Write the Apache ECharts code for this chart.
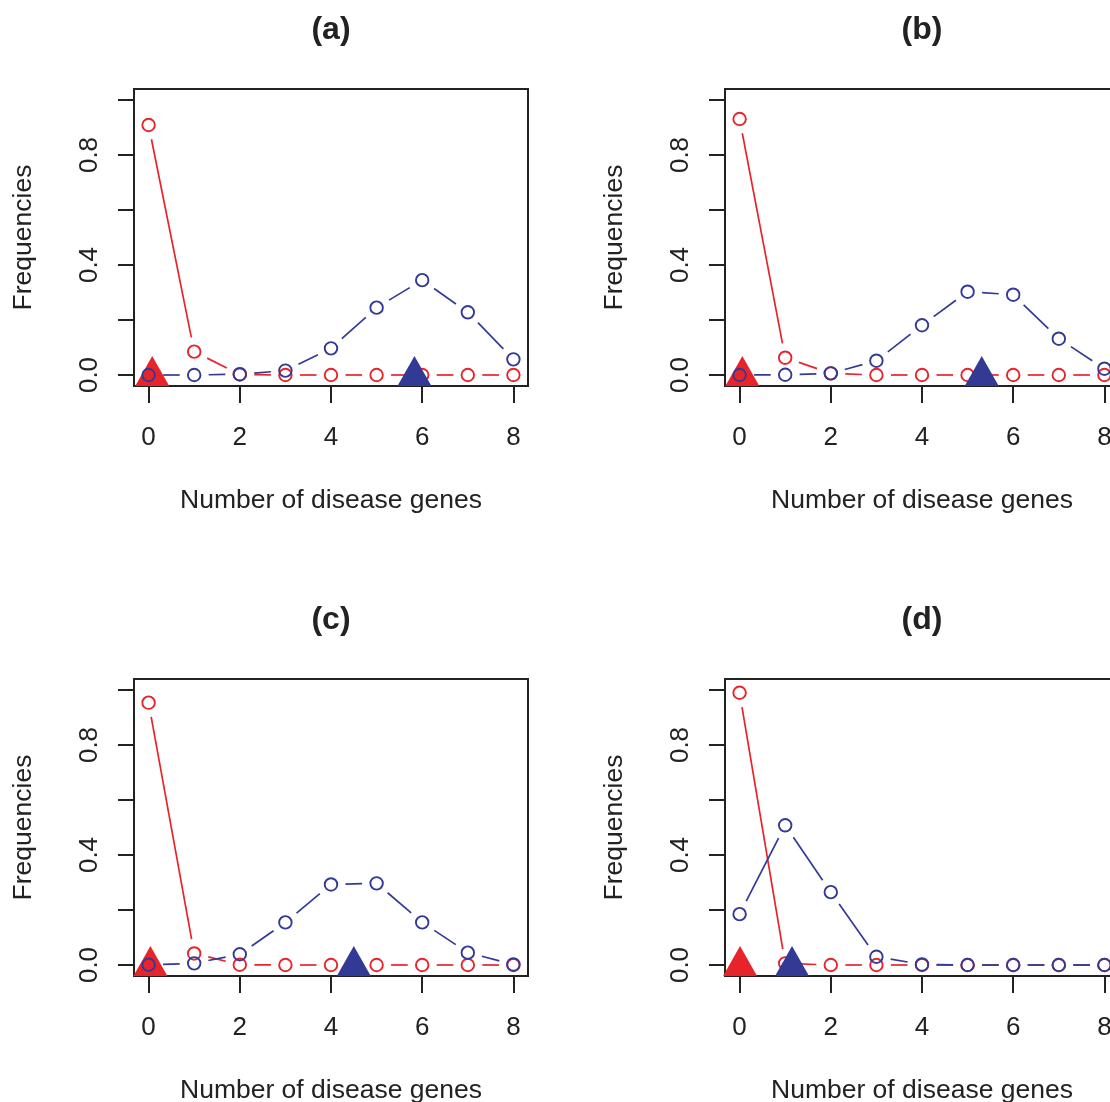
<!DOCTYPE html>
<html>
<head>
<meta charset="utf-8">
<script src="https://cdn.jsdelivr.net/npm/echarts@6/dist/echarts.min.js"></script>
<style>
  html, body { margin: 0; padding: 0; background: #fff; overflow: hidden; }
  /* the figure is wider than the window; its right edge is cut off as in the reference */
  #chart { width: 1182px; height: 1102px; }
</style>
</head>
<body>
<div id="chart"></div>
<script>
// ticks and labels
var genes = [0, 1, 2, 3, 4, 5, 6, 7, 8];
var xTicks = [0, 2, 4, 6, 8];
var yTicks = [0, 0.2, 0.4, 0.6, 0.8, 1.0];
var yTickLabels = [0, 0.4, 0.8];
var panelTitles = ['(a)', '(b)', '(c)', '(d)'];

// frequencies, one array per panel
var redA  = [0.909, 0.085, 0.002, 0, 0, 0, 0, 0, 0];
var blueA = [0, 0, 0.003, 0.016, 0.097, 0.245, 0.345, 0.228, 0.057];
var redB  = [0.931, 0.063, 0.006, 0, 0, 0, 0, 0, 0];
var blueB = [0, 0.001, 0.006, 0.052, 0.181, 0.303, 0.292, 0.132, 0.023];
var redC  = [0.954, 0.042, 0.001, 0, 0, 0, 0, 0, 0];
var blueC = [0.001, 0.006, 0.039, 0.155, 0.293, 0.297, 0.155, 0.045, 0.002];
var redD  = [0.990, 0.006, 0, 0, 0, 0, 0, 0, 0];
var blueD = [0.185, 0.508, 0.265, 0.030, 0.002, 0, 0, 0, 0];

// triangle markers (means)
var redMeans  = [0.08, 0.06, 0.04, 0.01];
var blueMeans = [5.83, 5.31, 4.50, 1.15];

var redSeries = [redA, redB, redC, redD];
var blueSeries = [blueA, blueB, blueC, blueD];

var RED = '#E8242B', BLUE = '#333A96', INK = '#222';
var FONT = 'Liberation Sans, Arial, Helvetica, sans-serif';
var GAP = 14.5;

var panelLeft = [134, 725, 134, 725];
var panelTop = [89, 89, 679, 679];
var boxW = 394, boxH = 297;

function points(vals) {
  var res = [];
  for (var i = 0; i < vals.length; i++) res.push([genes[i], vals[i]]);
  return res;
}
function segments(vals) {
  var res = [];
  for (var i = 0; i < vals.length - 1; i++) res.push([genes[i], vals[i], genes[i + 1], vals[i + 1]]);
  return res;
}
// R type="b": lines stop short of each point
function gapLine(color) {
  return function (params, api) {
    var p = api.coord([api.value(0), api.value(1)]);
    var q = api.coord([api.value(2), api.value(3)]);
    var dx = q[0] - p[0], dy = q[1] - p[1];
    var len = Math.sqrt(dx * dx + dy * dy);
    if (len <= 2 * GAP) return { type: 'group', children: [] };
    var ux = dx / len, uy = dy / len;
    return {
      type: 'line',
      shape: { x1: p[0] + ux * GAP, y1: p[1] + uy * GAP, x2: q[0] - ux * GAP, y2: q[1] - uy * GAP },
      style: { stroke: color, lineWidth: 1.7 }
    };
  };
}

var grids = [], xAxes = [], yAxes = [], titles = [], series = [];
for (var k = 0; k < 4; k++) {
  grids.push({
    left: panelLeft[k], top: panelTop[k], width: boxW, height: boxH,
    outerBoundsMode: 'none', containLabel: false,
    show: true, borderColor: INK, borderWidth: 2, backgroundColor: 'transparent'
  });
  xAxes.push({
    gridIndex: k, type: 'value', min: -0.32, max: 8.32,
    name: 'Number of disease genes', nameLocation: 'middle', nameGap: 101,
    nameTextStyle: { fontFamily: FONT, fontSize: 26.5, color: INK },
    axisLine: { show: false, onZero: false }, splitLine: { show: false },
    axisTick: { show: true, inside: false, length: 17, customValues: xTicks, lineStyle: { color: INK, width: 2 } },
    axisLabel: { customValues: xTicks, margin: 38.5, fontFamily: FONT, fontSize: 26, color: INK }
  });
  yAxes.push({
    gridIndex: k, type: 'value', min: -0.04, max: 1.04,
    name: 'Frequencies', nameLocation: 'middle', nameGap: 96.5,
    nameTextStyle: { fontFamily: FONT, fontSize: 26.5, color: INK },
    axisLine: { show: false, onZero: false }, splitLine: { show: false },
    axisTick: { show: true, inside: false, length: 16, customValues: yTicks, lineStyle: { color: INK, width: 2 } },
    axisLabel: {
      customValues: yTickLabels, rotate: 90, margin: 31.5, fontFamily: FONT, fontSize: 26, color: INK,
      formatter: function (v) { return v.toFixed(1); }
    }
  });
  titles.push({
    text: panelTitles[k], left: panelLeft[k] + boxW / 2 - 5, top: panelTop[k] - 80, textAlign: 'center',
    textStyle: { fontFamily: FONT, fontSize: 32, fontWeight: 'bold', color: INK }
  });

  var groups = [
    { vals: redSeries[k], mean: redMeans[k], color: RED },
    { vals: blueSeries[k], mean: blueMeans[k], color: BLUE }
  ];
  for (var g = 0; g < 2; g++) {
    var grp = groups[g];
    series.push({
      type: 'custom', xAxisIndex: k, yAxisIndex: k, silent: true,
      encode: { x: [0, 2], y: [1, 3] },
      data: segments(grp.vals), renderItem: gapLine(grp.color)
    });
    series.push({
      type: 'scatter', xAxisIndex: k, yAxisIndex: k, silent: true,
      symbol: 'circle', symbolSize: 12.5,
      itemStyle: { color: 'rgba(0,0,0,0)', borderColor: grp.color, borderWidth: 1.9, opacity: 1 },
      data: points(grp.vals)
    });
    series.push({
      type: 'scatter', xAxisIndex: k, yAxisIndex: k, silent: true,
      symbol: 'triangle', symbolSize: [34, 30], symbolOffset: [0, -4],
      itemStyle: { color: grp.color, opacity: 1 },
      data: [[grp.mean, 0]]
    });
  }
}

var myChart = echarts.init(document.getElementById('chart'));
myChart.setOption({
  animation: false,
  backgroundColor: '#fff',
  title: titles,
  grid: grids,
  xAxis: xAxes,
  yAxis: yAxes,
  series: series
});
</script>
</body>
</html>
